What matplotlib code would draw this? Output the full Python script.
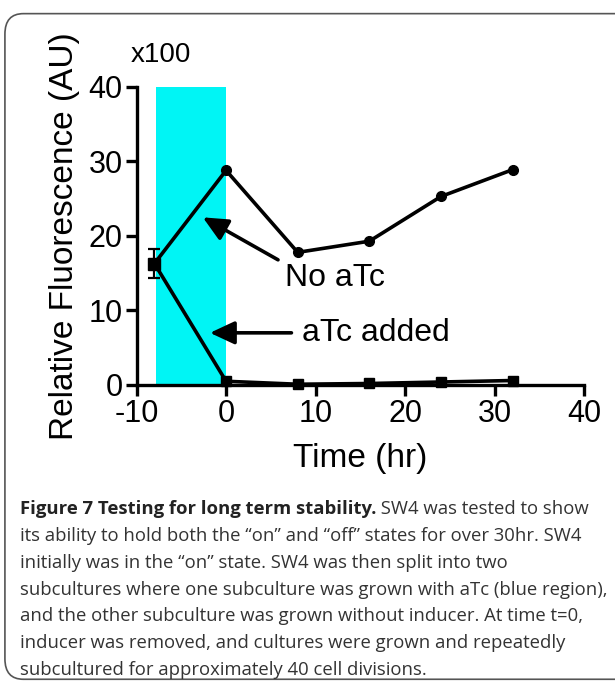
import matplotlib
matplotlib.use('Agg')
import matplotlib.pyplot as plt
from matplotlib.patches import FancyBboxPatch

# data (units of x100 AU)
time_hr = [-8, 0, 8, 16, 24, 32]
no_atc = [16.3, 28.8, 17.8, 19.3, 25.3, 28.9]
atc_added = [16.3, 0.5, 0.1, 0.2, 0.4, 0.6]
start_err = 2.0
atc_window = (-7.8, 0)

caption_bold = 'Figure 7 Testing for long term stability.'
caption_lines = [
    ' SW4 was tested to show',
    'its ability to hold both the \u201con\u201d and \u201coff\u201d states for over 30hr. SW4',
    'initially was in the \u201con\u201d state. SW4 was then split into two',
    'subcultures where one subculture was grown with aTc (blue region),',
    'and the other subculture was grown without inducer. At time t=0,',
    'inducer was removed, and cultures were grown and repeatedly',
    'subcultured for approximately 40 cell divisions.',
]

CHART_FONT = ['Liberation Sans', 'DejaVu Sans']
CAP_FONT = ['Open Sans', 'DejaVu Sans']

plt.rcParams['axes.unicode_minus'] = False

fig = plt.figure(figsize=(6.15, 6.82), dpi=100)
fig.patch.set_facecolor('white')

box = FancyBboxPatch((0.008, 0.004), 1.05, 0.976, boxstyle='round,pad=0,rounding_size=0.03',
                     transform=fig.transFigure, facecolor='none', edgecolor='#555555',
                     linewidth=1.2)
fig.patches.append(box)

ax = fig.add_axes([0.222, 0.4355, 0.728, 0.437])
ax.axvspan(atc_window[0], atc_window[1], ymin=0, ymax=1, color='#00f5f5', lw=0, zorder=0)

ax.plot(time_hr, no_atc, color='black', lw=2.6, marker='o', ms=7, zorder=3, clip_on=False)
ax.plot(time_hr, atc_added, color='black', lw=2.6, marker='s', ms=7, zorder=3, clip_on=False)
ax.errorbar([time_hr[0]], [no_atc[0]], yerr=start_err, color='black', lw=1.6,
            capsize=4, capthick=1.6, marker='s', ms=8, zorder=4)

ax.set_xlim(-10, 40)
ax.set_ylim(0, 40)
ax.set_xticks(range(-10, 41, 10))
ax.set_yticks(range(0, 41, 10))
for s in ['top', 'right']:
    ax.spines[s].set_visible(False)
for s in ['left', 'bottom']:
    ax.spines[s].set_linewidth(2.4)
ax.tick_params(width=2.4, length=8, labelsize=22, pad=2)
for lab in ax.get_xticklabels() + ax.get_yticklabels():
    lab.set_family(CHART_FONT)

ax.set_xlabel('Time (hr)', fontsize=24, family=CHART_FONT, labelpad=10)
ax.set_ylabel('Relative Fluorescence (AU)', fontsize=24, family=CHART_FONT, labelpad=6)
ax.text(-10.7, 42.6, 'x100', fontsize=20, family=CHART_FONT, ha='left', va='bottom')

arrow = dict(arrowstyle='-|>,head_length=1.5,head_width=0.7', color='black', lw=2.6,
             shrinkA=0, shrinkB=0)
ax.annotate('', xy=(-2.6, 22.5), xytext=(5.8, 16.8), arrowprops=arrow)
ax.text(6.6, 14.3, 'No aTc', fontsize=23, family=CHART_FONT, ha='left', va='center')
ax.annotate('', xy=(-1.8, 7.0), xytext=(7.3, 7.0), arrowprops=arrow)
ax.text(8.5, 7.0, 'aTc added', fontsize=23, family=CHART_FONT, ha='left', va='center')

# caption
x0, y0, dy = 0.032, 0.246, 0.0393
fs = 13.3
t = fig.text(x0, y0, caption_bold, fontsize=fs, weight='bold', family=CAP_FONT,
             ha='left', va='baseline', color='#222222')
fig.canvas.draw()
bb = t.get_window_extent().transformed(fig.transFigure.inverted())
fig.text(bb.x1, y0, caption_lines[0], fontsize=fs, family=CAP_FONT, color='#333333',
         ha='left', va='baseline')
for i, line in enumerate(caption_lines[1:], start=1):
    fig.text(x0, y0 - i * dy, line, fontsize=fs, family=CAP_FONT, color='#333333',
             ha='left', va='baseline')

fig.savefig('out.png', dpi=100)
